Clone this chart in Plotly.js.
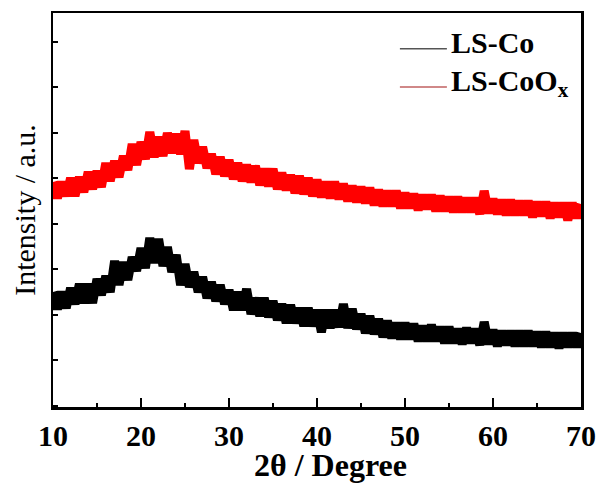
<!DOCTYPE html>
<html>
<head>
<meta charset="utf-8">
<script src="https://cdn.plot.ly/plotly-3.0.1.min.js"></script>
<style>html,body{margin:0;padding:0;background:#fff;}#chart{width:603px;height:485px;}</style>
</head>
<body>
<div id="chart"></div>
<script>
// 2θ sampling grid (degrees): 10 to 70 in 0.5° steps
const thetaStart = 10;
const thetaStep = 0.5;

// Intensity (a.u.), one value per 0.5°
const lsCo = [
  115, 98, 115, 99, 119, 103, 123, 104, 123, 104,
  128, 112, 131, 115, 146, 122, 145, 127, 150, 136,
  159, 139, 169, 144, 168, 141, 160, 135, 152, 122,
  143, 120, 135, 115, 130, 109, 125, 106, 122, 103,
  117, 97, 115, 97, 118, 93, 109, 91, 109, 90,
  106, 87, 103, 84, 102, 84, 99, 81, 99, 81,
  97, 75, 97, 79, 97, 80, 103, 79, 98, 78,
  93, 74, 91, 73, 88, 70, 86, 69, 84, 68,
  84, 68, 83, 66, 81, 66, 82, 66, 80, 64,
  80, 64, 78, 63, 79, 64, 78, 62, 85, 63,
  77, 61, 76, 62, 76, 61, 76, 61, 76, 61,
  75, 60, 75, 60, 74, 59, 74, 60, 74, 60,
  74
];
const lsCoOx = [
  225, 209, 225, 211, 229, 211, 230, 215, 235, 218,
  236, 220, 244, 226, 246, 230, 251, 237, 263, 242,
  265, 248, 275, 250, 270, 251, 274, 254, 273, 253,
  276, 238, 267, 244, 260, 239, 253, 233, 250, 231,
  247, 228, 244, 226, 242, 225, 241, 222, 238, 221,
  238, 218, 234, 217, 232, 214, 231, 213, 229, 211,
  227, 210, 225, 209, 225, 208, 223, 206, 221, 205,
  220, 204, 219, 202, 217, 201, 216, 201, 216, 199,
  214, 199, 213, 197, 212, 198, 212, 196, 211, 196,
  210, 195, 210, 195, 209, 195, 209, 193, 216, 194,
  208, 193, 207, 192, 207, 192, 206, 192, 206, 190,
  205, 191, 205, 189, 204, 190, 204, 187, 204, 189,
  203
];
const seriesNames = ['LS-Co', 'LS-CoO<sub>x</sub>'];
const seriesColors = ['#000000', '#ff0000'];
const xTickVals = [10, 20, 30, 40, 50, 60, 70];
const xTitle = '2θ / Degree';
const yTitle = 'Intensity / a.u.';

const twoTheta = lsCo.map((_, i) => thetaStart + i * thetaStep);

const traces = [
  {x: twoTheta, y: lsCo, type: 'scatter', mode: 'lines', name: seriesNames[0],
   line: {color: seriesColors[0], width: 9}, showlegend: false, hoverinfo: 'skip'},
  {x: twoTheta, y: lsCoOx, type: 'scatter', mode: 'lines', name: seriesNames[1],
   line: {color: seriesColors[1], width: 9}, showlegend: false, hoverinfo: 'skip'}
];

const serif = 'Liberation Serif, Times New Roman, serif';
const layout = {
  width: 603, height: 485,
  margin: {l: 53, r: 22, t: 13, b: 78},
  paper_bgcolor: '#ffffff', plot_bgcolor: '#ffffff',
  showlegend: false,
  xaxis: {
    range: [10, 70], tickvals: xTickVals, ticktext: xTickVals.map(String),
    ticks: 'inside', ticklen: 9, tickwidth: 2, tickcolor: '#000',
    minor: {ticks: 'inside', ticklen: 4, tickwidth: 2, tickcolor: '#000', dtick: 5, tick0: 15},
    showline: true, linecolor: '#000', linewidth: 2.5, mirror: true,
    showgrid: false, zeroline: false,
    tickfont: {family: serif, size: 30, color: '#000', weight: 'bold'}
  },
  yaxis: {
    range: [0, 394], tick0: 47, dtick: 45.5,
    ticks: 'inside', ticklen: 5, tickwidth: 2, tickcolor: '#000',
    showticklabels: false,
    showline: true, linecolor: '#000', linewidth: 2.5, mirror: true,
    showgrid: false, zeroline: false,
    title: {text: yTitle, font: {family: serif, size: 30, color: '#000'}, standoff: 6}
  },
  shapes: [
    {type: 'line', xref: 'paper', yref: 'paper', x0: 0.657, x1: 0.746, y0: 0.909, y1: 0.909,
     line: {color: '#555555', width: 1.5}},
    {type: 'line', xref: 'paper', yref: 'paper', x0: 0.657, x1: 0.746, y0: 0.812, y1: 0.812,
     line: {color: '#c06060', width: 1.5}}
  ],
  annotations: [
    {xref: 'paper', yref: 'paper', x: 0.525, y: -0.147, xanchor: 'center', yanchor: 'middle',
     text: '<b>' + xTitle + '</b>', showarrow: false,
     font: {family: serif, size: 32, color: '#000'}},
    {xref: 'paper', yref: 'paper', x: 0.750, y: 0.924, xanchor: 'left', yanchor: 'middle',
     text: '<b>' + seriesNames[0] + '</b>', showarrow: false,
     font: {family: serif, size: 30, color: '#000'}},
    {xref: 'paper', yref: 'paper', x: 0.750, y: 0.822, xanchor: 'left', yanchor: 'middle',
     text: '<b>' + seriesNames[1] + '</b>', showarrow: false,
     font: {family: serif, size: 30, color: '#000'}}
  ]
};

Plotly.newPlot('chart', traces, layout, {staticPlot: true, displayModeBar: false});
</script>
</body>
</html>
